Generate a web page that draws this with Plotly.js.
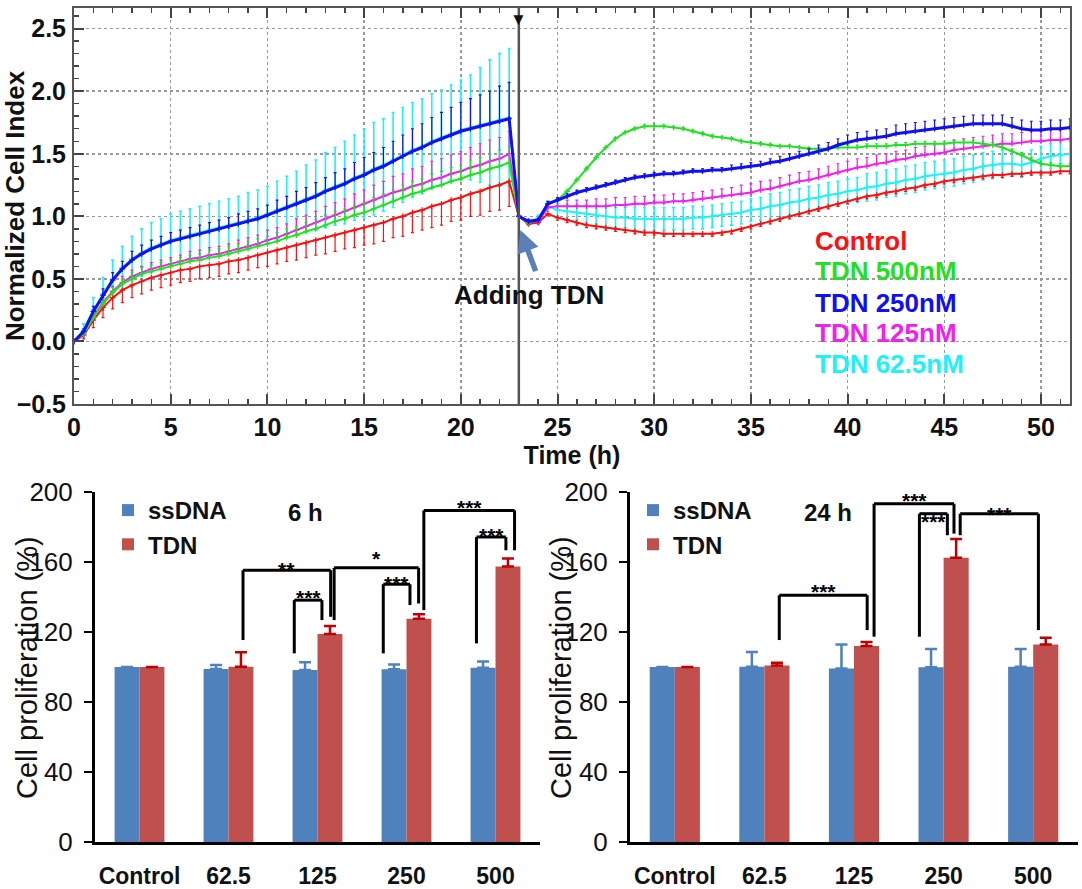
<!DOCTYPE html>
<html><head><meta charset="utf-8">
<script src="https://cdn.plot.ly/plotly-3.0.1.min.js"></script>
<style>html,body{margin:0;padding:0;background:#fff}#chart{width:1082px;height:889px}</style>
</head><body><div id="chart"></div>
<script>
// ---------- Top chart: Normalized Cell Index vs time ----------
const times = [0,0.5,1,1.5,2,2.5,3,3.5,4,4.5,5,5.5,6,6.5,7,7.5,8,8.5,9,9.5,10,10.5,11,11.5,12,12.5,13,13.5,14,14.5,15,15.5,16,16.5,17,17.5,18,18.5,19,19.5,20,20.5,21,21.5,22,22.5,23,23.5,24,24.5,25,25.5,26,26.5,27,27.5,28,28.5,29,29.5,30,30.5,31,31.5,32,32.5,33,33.5,34,34.5,35,35.5,36,36.5,37,37.5,38,38.5,39,39.5,40,40.5,41,41.5,42,42.5,43,43.5,44,44.5,45,45.5,46,46.5,47,47.5,48,48.5,49,49.5,50,50.5,51,51.5];

const control = [0.00,0.05,0.17,0.27,0.35,0.41,0.45,0.48,0.51,0.53, 0.55,0.57,0.58,0.60,0.61,0.62,0.64,0.65,0.67,0.69, 0.71,0.73,0.75,0.77,0.79,0.81,0.83,0.85,0.87,0.89, 0.91,0.93,0.95,0.98,1.00,1.03,1.05,1.08,1.10,1.13, 1.15,1.18,1.20,1.23,1.25,1.28,
  1.00,0.94,0.95,1.02,0.99,0.97,0.95,0.93,0.92,0.91, 0.90,0.89,0.88,0.87,0.87,0.86,0.86,0.86,0.86,0.86, 0.86,0.87,0.88,0.90,0.92,0.94,0.96,0.98,1.00,1.02, 1.04,1.06,1.08,1.10,1.12,1.14,1.16,1.17,1.19,1.20, 1.22,1.23,1.25,1.26,1.28,1.29,1.30,1.31,1.32,1.33, 1.33,1.34,1.34,1.35,1.35,1.35,1.36,1.36];
const controlErr = [0,0.03,0.06,0.08,0.09,0.10,0.10,0.10,0.10,0.10, 0.10,0.10,0.10,0.10,0.10,0.10,0.10,0.10,0.10,0.10, 0.11,0.11,0.11,0.12,0.12,0.12,0.13,0.13,0.13,0.14, 0.14,0.15,0.15,0.15,0.16,0.16,0.16,0.17,0.17,0.17, 0.18,0.18,0.19,0.19,0.20,0.20,
  0,0.01,0.01,0.01,0.02,0.02,0.02,0.02,0.02,0.02, 0.02,0.02,0.02,0.02,0.02,0.02,0.02,0.02,0.02,0.02, 0.02,0.02,0.02,0.02,0.02,0.02,0.02,0.02,0.02,0.02, 0.02,0.02,0.02,0.02,0.02,0.02,0.02,0.02,0.02,0.02, 0.02,0.02,0.02,0.02,0.02,0.02,0.02,0.02,0.02,0.02, 0.02,0.02,0.02,0.02,0.02,0.02,0.02,0.02];

const tdn500 = [0.00,0.06,0.19,0.30,0.39,0.46,0.50,0.54,0.56,0.58, 0.60,0.62,0.64,0.65,0.67,0.68,0.70,0.72,0.74,0.76, 0.78,0.80,0.83,0.85,0.88,0.90,0.93,0.96,0.98,1.01, 1.03,1.06,1.09,1.12,1.15,1.18,1.20,1.23,1.25,1.28, 1.30,1.33,1.35,1.38,1.40,1.43,
  1.00,0.95,0.97,1.10,1.13,1.20,1.29,1.38,1.47,1.55, 1.62,1.67,1.70,1.72,1.72,1.72,1.71,1.70,1.68,1.66, 1.64,1.63,1.62,1.60,1.59,1.58,1.57,1.56,1.56,1.55, 1.54,1.54,1.54,1.55,1.55,1.55,1.56,1.56,1.56,1.57, 1.57,1.58,1.58,1.58,1.58,1.59,1.59,1.59,1.58,1.57, 1.55,1.52,1.49,1.45,1.42,1.41,1.40,1.40];
const tdn500Err = [0,0.02,0.03,0.04,0.04,0.04,0.05,0.05,0.05,0.05, 0.05,0.05,0.05,0.05,0.06,0.06,0.06,0.06,0.06,0.06, 0.06,0.07,0.07,0.07,0.07,0.07,0.08,0.08,0.08,0.08, 0.08,0.09,0.09,0.09,0.10,0.10,0.10,0.11,0.11,0.11, 0.11,0.12,0.12,0.12,0.13,0.13,
  0,0.01,0.01,0.01,0.01,0.01,0.01,0.01,0.01,0.01, 0.01,0.01,0.01,0.01,0.01,0.01,0.01,0.01,0.01,0.01, 0.01,0.01,0.01,0.01,0.01,0.01,0.01,0.01,0.01,0.01, 0.01,0.01,0.01,0.02,0.02,0.02,0.02,0.02,0.02,0.02, 0.02,0.02,0.02,0.02,0.02,0.02,0.02,0.02,0.02,0.02, 0.02,0.02,0.02,0.02,0.02,0.02,0.02,0.02];

const tdn250 = [0.00,0.08,0.24,0.37,0.49,0.58,0.65,0.70,0.74,0.77, 0.80,0.82,0.84,0.86,0.88,0.90,0.92,0.94,0.96,0.98, 1.01,1.04,1.07,1.10,1.13,1.16,1.20,1.23,1.26,1.30, 1.33,1.37,1.40,1.44,1.48,1.52,1.55,1.59,1.62,1.65, 1.68,1.70,1.72,1.74,1.76,1.78,
  1.00,0.96,0.97,1.10,1.13,1.16,1.19,1.21,1.23,1.25, 1.27,1.29,1.31,1.32,1.33,1.34,1.34,1.35,1.36,1.36, 1.37,1.37,1.38,1.39,1.40,1.41,1.43,1.44,1.46,1.48, 1.50,1.52,1.54,1.57,1.59,1.61,1.62,1.63,1.64,1.66, 1.67,1.68,1.69,1.70,1.71,1.72,1.73,1.74,1.74,1.74, 1.74,1.72,1.70,1.69,1.69,1.70,1.70,1.71];
const tdn250Err = [0,0.02,0.04,0.05,0.06,0.06,0.07,0.07,0.07,0.07, 0.07,0.07,0.07,0.07,0.07,0.07,0.07,0.08,0.08,0.08, 0.08,0.09,0.09,0.10,0.10,0.11,0.11,0.12,0.12,0.13, 0.14,0.14,0.15,0.16,0.17,0.18,0.19,0.20,0.21,0.22, 0.23,0.24,0.25,0.26,0.28,0.29,
  0,0.01,0.01,0.02,0.02,0.02,0.02,0.02,0.02,0.02, 0.02,0.02,0.02,0.02,0.02,0.02,0.02,0.02,0.02,0.02, 0.02,0.02,0.03,0.03,0.03,0.03,0.03,0.04,0.04,0.04, 0.04,0.05,0.05,0.05,0.06,0.06,0.06,0.06,0.06,0.07, 0.07,0.07,0.07,0.07,0.07,0.07,0.07,0.07,0.07,0.07, 0.07,0.07,0.07,0.07,0.07,0.07,0.07,0.07];

const tdn125 = [0.00,0.06,0.20,0.31,0.40,0.47,0.52,0.55,0.58,0.60, 0.62,0.64,0.66,0.67,0.69,0.70,0.72,0.74,0.76,0.78, 0.81,0.83,0.86,0.89,0.92,0.95,0.98,1.01,1.04,1.07, 1.10,1.13,1.16,1.19,1.21,1.24,1.26,1.29,1.31,1.34, 1.36,1.39,1.41,1.44,1.46,1.50,
  1.00,0.95,0.96,1.07,1.08,1.08,1.08,1.08,1.08,1.08, 1.09,1.09,1.10,1.10,1.11,1.11,1.12,1.12,1.13,1.14, 1.15,1.16,1.17,1.18,1.19,1.21,1.22,1.24,1.26,1.28, 1.29,1.31,1.33,1.35,1.37,1.39,1.40,1.42,1.43,1.45, 1.46,1.48,1.49,1.50,1.51,1.53,1.54,1.55,1.56,1.57, 1.58,1.58,1.59,1.60,1.60,1.61,1.61,1.62];
const tdn125Err = [0,0.02,0.03,0.04,0.04,0.05,0.05,0.05,0.05,0.05, 0.05,0.05,0.06,0.06,0.06,0.06,0.06,0.07,0.07,0.07, 0.08,0.08,0.08,0.09,0.09,0.09,0.10,0.10,0.10,0.11, 0.11,0.12,0.12,0.13,0.13,0.14,0.14,0.15,0.15,0.15, 0.16,0.16,0.17,0.17,0.17,0.18,
  0,0.01,0.02,0.03,0.04,0.05,0.05,0.05,0.06,0.06, 0.06,0.06,0.06,0.06,0.06,0.06,0.06,0.06,0.06,0.06, 0.06,0.06,0.06,0.07,0.07,0.07,0.07,0.07,0.07,0.07, 0.07,0.07,0.07,0.07,0.07,0.07,0.07,0.07,0.07,0.07, 0.07,0.07,0.07,0.07,0.07,0.08,0.08,0.08,0.08,0.08, 0.08,0.08,0.08,0.08,0.08,0.08,0.08,0.08];

const tdn62 = [0.00,0.09,0.25,0.38,0.50,0.59,0.66,0.71,0.75,0.78, 0.81,0.83,0.85,0.87,0.89,0.91,0.93,0.95,0.97,0.99, 1.02,1.05,1.08,1.11,1.14,1.17,1.21,1.24,1.27,1.31, 1.34,1.38,1.41,1.45,1.49,1.53,1.56,1.60,1.63,1.66, 1.69,1.71,1.73,1.75,1.77,1.79,
  1.00,0.96,0.98,1.08,1.05,1.04,1.03,1.02,1.01,1.00, 0.99,0.99,0.98,0.98,0.98,0.98,0.98,0.98,0.99,0.99, 1.00,1.01,1.02,1.03,1.05,1.06,1.08,1.09,1.11,1.12, 1.14,1.15,1.17,1.18,1.20,1.21,1.23,1.24,1.26,1.27, 1.29,1.30,1.32,1.33,1.34,1.35,1.37,1.38,1.40,1.41, 1.42,1.42,1.41,1.43,1.46,1.48,1.49,1.50];
const tdn62Err = [0,0.05,0.10,0.13,0.15,0.17,0.18,0.19,0.20,0.20, 0.21,0.21,0.21,0.21,0.21,0.21,0.21,0.21,0.22,0.22, 0.22,0.23,0.24,0.25,0.27,0.28,0.30,0.31,0.33,0.34, 0.36,0.37,0.37,0.38,0.38,0.38,0.38,0.38,0.38,0.39, 0.40,0.42,0.46,0.50,0.53,0.55,
  0,0.02,0.03,0.04,0.05,0.06,0.06,0.07,0.07,0.08, 0.08,0.08,0.09,0.09,0.09,0.09,0.09,0.09,0.09,0.09, 0.09,0.09,0.09,0.09,0.09,0.09,0.10,0.10,0.10,0.10, 0.10,0.10,0.10,0.10,0.10,0.10,0.11,0.11,0.11,0.11, 0.11,0.11,0.11,0.11,0.11,0.11,0.11,0.11,0.11,0.11, 0.11,0.10,0.10,0.10,0.10,0.10,0.10,0.10];

const seriesNames = ['Control','TDN 500nM','TDN 250nM','TDN 125nM','TDN 62.5nM'];
const treatmentTime = 23;

// ---------- Bottom charts: cell proliferation ----------
const categories = ['Control','62.5','125','250','500'];
const ssDNA6h    = [100, 98.9, 98.3, 98.7, 99.6];
const ssDNA6hErr = [NaN, 2.2, 4.4, 2.8, 3.6];
const tdn6h      = [100, 100.2, 118.8, 127.6, 157.4];
const tdn6hErr   = [NaN, 8.2, 4.6, 2.6, 4.6];
const ssDNA24h    = [100, 100.2, 99.2, 99.8, 100.2];
const ssDNA24hErr = [NaN, 8.4, 13.7, 10.5, 10.1];
const tdn24h      = [100, 100.8, 112.0, 162.4, 112.9];
const tdn24hErr   = [NaN, 1.7, 2.3, 10.8, 3.8];

// ---------- styling ----------
const FONT = 'Liberation Sans, Arial, Helvetica, sans-serif';
const BLUE_BAR = '#4f81bd', RED_BAR = '#c0504d', RED_ERR = '#c00000';

function zeros(a){ return a.map(function(){ return 0; }); }
function lineTrace(y, err, color, dir, lw, et){
  var ey = {type:'data', symmetric:false, color:color, thickness:et, width:1.5, visible:true};
  if (dir === 'plus') { ey.array = err; ey.arrayminus = zeros(err); }
  else if (dir === 'minus') { ey.array = zeros(err); ey.arrayminus = err; }
  else { ey.array = err; ey.arrayminus = err; }
  return {type:'scatter', mode:'lines+markers', x:times, y:y, xaxis:'x', yaxis:'y',
    line:{color:color, width:lw}, marker:{symbol:'cross-thin', size:4, color:color, line:{color:color, width:1.2}},
    error_y:ey, showlegend:false, hoverinfo:'skip'};
}

const topColors = ['#ff1010','#22e022','#1010f0','#f020f0','#20f0f8'];

var data = [
  lineTrace(tdn62, tdn62Err, topColors[4], 'both', 2, 1.6),
  lineTrace(control, controlErr, topColors[0], 'minus', 2, 1.2),
  lineTrace(tdn125, tdn125Err, topColors[3], 'plus', 2, 1.2),
  lineTrace(tdn500, tdn500Err, topColors[1], 'plus', 2, 1.2),
  lineTrace(tdn250, tdn250Err, topColors[2], 'plus', 3, 1.2)
];

function barTrace(name, y, err, color, errColor, xa, ya, leg, show){
  return {type:'bar', name:name, x:categories, y:y, xaxis:xa, yaxis:ya, marker:{color:color, line:{width:0}},
    error_y:{type:'data', symmetric:false, array:err, arrayminus:zeros(err), color:errColor, thickness:2.5, width:6},
    legend:leg, showlegend:show, hoverinfo:'skip'};
}
data.push(barTrace('ssDNA', ssDNA6h, ssDNA6hErr, BLUE_BAR, BLUE_BAR, 'x2','y2','legend', true));
data.push(barTrace('TDN', tdn6h, tdn6hErr, RED_BAR, RED_ERR, 'x2','y2','legend', true));
data.push(barTrace('ssDNA', ssDNA24h, ssDNA24hErr, BLUE_BAR, BLUE_BAR, 'x3','y3','legend2', true));
data.push(barTrace('TDN', tdn24h, tdn24hErr, RED_BAR, RED_ERR, 'x3','y3','legend2', true));

// significance brackets (annotation geometry, category units / % units)
const brackets6 = [
  {x1:1.163, x2:2.148, yl:115.4, top:155.3, yr:128.7, label:'**',  ly:159},
  {x1:1.739, x2:2.050, yl:107.8, top:138.2, yr:126.8, label:'***', ly:143},
  {x1:2.187, x2:3.136, yl:126.8, top:156.7, yr:136.3, label:'*',   ly:165},
  {x1:2.739, x2:3.039, yl:107.8, top:147.3, yr:135.4, label:'***', ly:151},
  {x1:3.195, x2:4.214, yl:132.5, top:189.5, yr:166.7, label:'***', ly:194},
  {x1:3.786, x2:4.117, yl:113.5, top:174.3, yr:166.7, label:'***', ly:178}
];
const brackets24 = [
  {x1:1.166, x2:2.147, yl:115.4, top:141.0, yr:121.1, label:'***', ly:146},
  {x1:2.224, x2:3.116, yl:117.3, top:193.3, yr:176.2, label:'***', ly:198},
  {x1:2.730, x2:3.042, yl:117.3, top:187.6, yr:175.3, label:'***', ly:186},
  {x1:3.185, x2:4.058, yl:175.3, top:187.6, yr:121.1, label:'***', ly:190}
];

var shapes = [], annotations = [];
function addBrackets(list, xr, yr){
  list.forEach(function(b){
    var ln = {color:'#000', width:3};
    shapes.push({type:'line', xref:xr, yref:yr, x0:b.x1, x1:b.x1, y0:b.yl, y1:b.top, line:ln});
    shapes.push({type:'line', xref:xr, yref:yr, x0:b.x1, x1:b.x2, y0:b.top, y1:b.top, line:ln});
    shapes.push({type:'line', xref:xr, yref:yr, x0:b.x2, x1:b.x2, y0:b.top, y1:b.yr, line:ln});
    annotations.push({xref:xr, yref:yr, x:(b.x1+b.x2)/2, y:b.ly-3, text:b.label, showarrow:false,
      xanchor:'center', yanchor:'middle', font:{family:FONT, size:21, color:'#000', weight:700}});
  });
}
addBrackets(brackets6, 'x2', 'y2');
addBrackets(brackets24, 'x3', 'y3');

// treatment line + marker
shapes.push({type:'line', xref:'x', yref:'y', x0:treatmentTime, x1:treatmentTime, y0:-0.5, y1:2.665, line:{color:'#555', width:2.5}, layer:'above'});
annotations.push({xref:'x', yref:'y', x:treatmentTime, y:2.665, yanchor:'top', xanchor:'center', text:'▼', showarrow:false, font:{size:17, color:'#111'}});
annotations.push({xref:'x', yref:'y', axref:'x', ayref:'y', x:23.08, y:0.89, ax:23.9, ay:0.55, text:'', showarrow:true,
  arrowhead:2, arrowsize:0.8, arrowwidth:5.5, arrowcolor:'#5b80b8'});
annotations.push({xref:'x', yref:'y', x:23.55, y:0.37, text:'Adding TDN', showarrow:false, xanchor:'center', yanchor:'middle',
  font:{family:FONT, size:26, color:'#111', weight:700}});

// top-chart colored legend text
const legendY = [0.80, 0.56, 0.31, 0.07, -0.18];
seriesNames.forEach(function(n, i){
  annotations.push({xref:'x', yref:'y', x:38.2, y:legendY[i], text:n, showarrow:false, xanchor:'left', yanchor:'middle',
    font:{family:FONT, size:26, color:topColors[i], weight:700}});
});

// bottom chart titles and y titles
annotations.push({xref:'paper', yref:'paper', x:305/1082, y:1-512/889, text:'6 h', showarrow:false, xanchor:'center', yanchor:'middle',
  font:{family:FONT, size:24, color:'#111', weight:700}});
annotations.push({xref:'paper', yref:'paper', x:828/1082, y:1-512/889, text:'24 h', showarrow:false, xanchor:'center', yanchor:'middle',
  font:{family:FONT, size:24, color:'#111', weight:700}});
annotations.push({xref:'paper', yref:'paper', x:27/1082, y:1-668/889, text:'Cell proliferation (%)', textangle:-90, showarrow:false,
  xanchor:'center', yanchor:'middle', font:{family:FONT, size:29, color:'#111'}});
annotations.push({xref:'paper', yref:'paper', x:561/1082, y:1-668/889, text:'Cell proliferation (%)', textangle:-90, showarrow:false,
  xanchor:'center', yanchor:'middle', font:{family:FONT, size:29, color:'#111'}});

function barX(dom){
  return {domain:dom, type:'category', range:[-0.5,4.5], showline:true, linecolor:'#000', linewidth:3, ticks:'',
    showgrid:false, zeroline:false, automargin:false, ticklabelstandoff:11,
    tickfont:{family:FONT, size:23, color:'#111', weight:700}};
}
function barY(anchor){
  return {domain:[47/889, 1-492/889], anchor:anchor, range:[0,200], dtick:40, tick0:0, ticks:'outside', ticklen:8, tickwidth:2.5,
    tickcolor:'#000', showline:true, linecolor:'#000', linewidth:3, showgrid:false, zeroline:false, automargin:false,
    ticklabelstandoff:6, tickfont:{family:FONT, size:26, color:'#111'}};
}

var layout = {
  width:1082, height:889, margin:{l:0, r:0, t:0, b:0}, paper_bgcolor:'#fff', plot_bgcolor:'#fff',
  font:{family:FONT, color:'#111'},
  barmode:'group', bargap:0.44, bargroupgap:0,
  xaxis:{domain:[74/1082, 1070/1082], anchor:'y', range:[0,51.5], tick0:0, dtick:5, ticks:'inside', ticklen:10, tickwidth:2,
    tickcolor:'#444', minor:{dtick:1, ticks:'inside', ticklen:5, tickwidth:1.5, tickcolor:'#444', showgrid:false},
    showline:true, linecolor:'#555', linewidth:2, mirror:'allticks', showgrid:true, gridcolor:'#999', griddash:'dot', gridwidth:1.5,
    zeroline:false, automargin:false, ticklabelstandoff:0,
    tickfont:{family:FONT, size:25, color:'#111', weight:700},
    title:{text:'Time (h)', standoff:0, font:{family:FONT, size:25, color:'#111', weight:700}}},
  yaxis:{domain:[1-404/889, 1-8/889], anchor:'x', range:[-0.5,2.665], tick0:0, dtick:0.5, tickformat:'.1f', ticks:'inside', ticklen:10,
    tickwidth:2, tickcolor:'#444', minor:{dtick:0.1, ticks:'inside', ticklen:5, tickwidth:1.5, tickcolor:'#444', showgrid:false},
    showline:true, linecolor:'#555', linewidth:2, mirror:true, showgrid:true, gridcolor:'#999', griddash:'dot', gridwidth:1.5,
    zeroline:false, automargin:false, ticklabelstandoff:1,
    tickfont:{family:FONT, size:25, color:'#111', weight:700},
    title:{text:'Normalized Cell Index', standoff:0, font:{family:FONT, size:26, color:'#111', weight:700}}},
  xaxis2:Object.assign(barX([95/1082, 540/1082]), {anchor:'y2'}),
  yaxis2:barY('x2'),
  xaxis3:Object.assign(barX([630/1082, 1078/1082]), {anchor:'y3'}),
  yaxis3:barY('x3'),
  legend:{x:108/1082, y:1-488/889, xanchor:'left', yanchor:'top', bgcolor:'rgba(0,0,0,0)', itemwidth:30, tracegroupgap:0,
    font:{family:FONT, size:24, color:'#111', weight:700}},
  legend2:{x:633/1082, y:1-488/889, xanchor:'left', yanchor:'top', bgcolor:'rgba(0,0,0,0)', itemwidth:30, tracegroupgap:0,
    font:{family:FONT, size:24, color:'#111', weight:700}},
  shapes:shapes, annotations:annotations
};

Plotly.newPlot('chart', data, layout, {displayModeBar:false, staticPlot:true});
</script></body></html>
